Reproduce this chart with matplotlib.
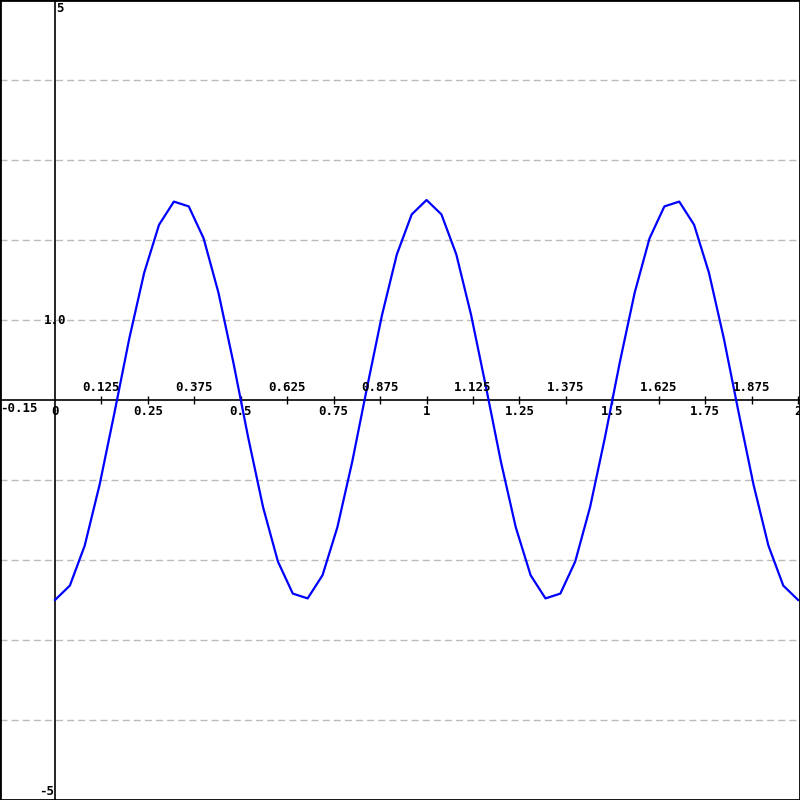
import numpy as np
import matplotlib
matplotlib.use("Agg")
import matplotlib.pyplot as plt
from matplotlib.patches import Rectangle

# ---- data ----
x_vals = [round(0.04 * k, 2) for k in range(51)]
y_vals = [-2.50, -2.32, -1.82, -1.06, -0.16, 0.77, 1.59, 2.19, 2.48, 2.42,
          2.02, 1.34, 0.47, -0.47, -1.34, -2.02, -2.42, -2.48, -2.19, -1.59,
          -0.77, 0.16, 1.06, 1.82, 2.32, 2.50, 2.32, 1.82, 1.06, 0.16,
          -0.77, -1.59, -2.19, -2.48, -2.42, -2.02, -1.34, -0.47, 0.47, 1.34,
          2.02, 2.42, 2.48, 2.19, 1.59, 0.77, -0.16, -1.06, -1.82, -2.32, -2.50]

major_x = [0.25, 0.5, 0.75, 1, 1.25, 1.5, 1.75, 2]
major_labels = ["0.25", "0.5", "0.75", "1", "1.25", "1.5", "1.75", "2"]
minor_x = [0.125, 0.375, 0.625, 0.875, 1.125, 1.375, 1.625, 1.875]
minor_labels = ["0.125", "0.375", "0.625", "0.875", "1.125", "1.375", "1.625", "1.875"]
grid_y = [-4, -3, -2, -1, 1, 2, 3, 4]

fig = plt.figure(figsize=(8, 8), dpi=100)
ax = fig.add_axes([0, 0, 1, 1])
ax.set_xlim(-0.148, 2.005)
ax.set_ylim(-5, 5)

for gy in grid_y:
    ax.axhline(gy, color="#bbbbbb", lw=1, ls=(0, (5, 3)), zorder=1)

ax.axhline(0, color="black", lw=1.2, zorder=2)
ax.axvline(0, color="black", lw=1.2, zorder=2)

ax.plot(x_vals, y_vals, color="#0000ff", lw=1.6, zorder=3)

for s in ax.spines.values():
    s.set_visible(False)
ax.set_xticks([])
ax.set_yticks([])

# tick marks on the x axis
tick_pos = sorted(major_x + minor_x)
ax.plot(tick_pos, [0] * len(tick_pos), ls="none", marker="|", ms=6, mew=1, color="black", zorder=2)

font = dict(family="DejaVu Sans Mono", fontsize=9, fontweight="bold", color="black")
for xv, lab in zip(major_x, major_labels):
    ax.text(xv, -0.06, lab, ha="center", va="top", **font)
for xv, lab in zip(minor_x, minor_labels):
    ax.text(xv, 0.07, lab, ha="center", va="bottom", **font)
ax.text(0, -0.06, "0", ha="center", va="top", **font)
ax.text(-0.148, -0.02, "-0.15", ha="left", va="top", **font)
ax.text(0.003, 4.98, "5", ha="left", va="top", **font)
ax.text(0, 1, "1.0", ha="center", va="center", **font)
ax.text(-0.002, -4.98, "-5", ha="right", va="bottom", **font)

fig.add_artist(Rectangle((0, 0), 1, 1, transform=fig.transFigure, fill=False,
                         edgecolor="black", lw=2))

fig.savefig("out.png", dpi=100)
